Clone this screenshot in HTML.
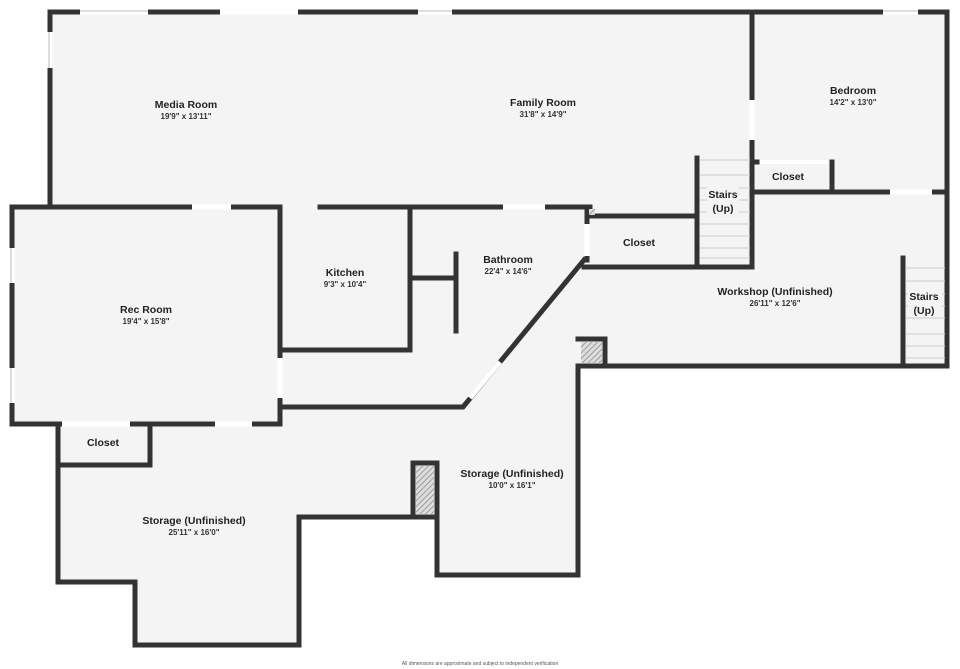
<!DOCTYPE html>
<html><head><meta charset="utf-8"><style>
html,body{margin:0;padding:0;background:#fff;}
svg{display:block;font-family:"Liberation Sans",sans-serif;}
.n{font-size:10.5px;font-weight:bold;fill:#222;text-anchor:middle;}
.d{font-size:8px;font-weight:bold;fill:#333;text-anchor:middle;}
.w{stroke:#333;stroke-width:5;fill:none;stroke-linecap:square;}
.g{stroke:#fff;stroke-width:5;}
.s{stroke:#ccc;stroke-width:1;}
</style></head><body>
<svg width="960" height="669" viewBox="0 0 960 669">
<defs><pattern id="h" width="4" height="4" patternUnits="userSpaceOnUse" patternTransform="rotate(45)"><rect width="4" height="4" fill="#ddd"/><line x1="0" y1="0" x2="0" y2="4" stroke="#888" stroke-width="1.5"/></pattern></defs>
<polygon points="12,207 50,207 50,12 947,12 947,366 578,366 578,575 437,575 437,517 299,517 299,645 135,645 135,582 58,582 58,424 12,424" fill="#f4f4f4"/>
<g class="w">
<polyline points="50,207 50,12 947,12 947,366 605,366"/>
<polyline points="12,207 280,207 280,424 12,424 12,207"/>
<polyline points="320,207 590,207"/>
<polyline points="410,207 410,350 280,350"/>
<line x1="410" y1="278" x2="456" y2="278"/><line x1="456" y1="254" x2="456" y2="331"/>
<polyline points="280,407 463,407 584,260"/>
<polyline points="587,207 587,260"/>
<polyline points="590,216 697,216"/>
<polyline points="584,267 752,267"/>
<line x1="697" y1="158" x2="697" y2="267"/>
<line x1="752" y1="12" x2="752" y2="267"/>
<polyline points="752,192 947,192"/>
<line x1="832" y1="162" x2="832" y2="192"/>
<line x1="752" y1="162" x2="757" y2="162"/>
<line x1="903" y1="258" x2="903" y2="366"/>
<polyline points="578,339 605,339 605,366 578,366 578,575 437,575 437,517 299,517 299,645 135,645 135,582 58,582 58,424"/>
<polyline points="150,424 150,465 58,465"/>
<polyline points="413,463 437,463 437,517 413,517 413,463"/>
</g>
<rect x="581" y="342" width="21" height="21" fill="url(#h)"/>
<rect x="416" y="466" width="18" height="48" fill="url(#h)"/>
<rect x="589" y="209" width="6" height="6" fill="url(#h)"/>
<!-- openings / windows -->
<g class="g">
<line x1="80" y1="12" x2="148" y2="12"/><line x1="220" y1="12" x2="298" y2="12"/><line x1="418" y1="12" x2="452" y2="12"/><line x1="883" y1="12" x2="918" y2="12"/>
<line x1="50" y1="32" x2="50" y2="68"/>
<line x1="192" y1="207" x2="231" y2="207"/><line x1="503" y1="207" x2="545" y2="207"/>
<line x1="12" y1="248" x2="12" y2="283"/><line x1="12" y1="368" x2="12" y2="403"/>
<line x1="280" y1="358" x2="280" y2="398"/>
<line x1="62" y1="424" x2="130" y2="424"/><line x1="215" y1="424" x2="252" y2="424"/>
<line x1="752" y1="100" x2="752" y2="140"/>
<line x1="890" y1="192" x2="932" y2="192"/>
<line x1="587" y1="224" x2="587" y2="256"/>
<line x1="470" y1="398" x2="500" y2="362"/>
<line x1="760" y1="162" x2="827" y2="162" style="stroke-width:4"/>
</g>
<g stroke="#aaa" stroke-width="0.8">
<line x1="80" y1="11" x2="148" y2="11"/><line x1="418" y1="11" x2="452" y2="11"/><line x1="883" y1="11" x2="918" y2="11"/>
<line x1="49" y1="32" x2="49" y2="68"/><line x1="11" y1="248" x2="11" y2="283"/><line x1="11" y1="368" x2="11" y2="403"/>
</g>
<g class="s">
<line x1="700" y1="160" x2="750" y2="160"/>
<line x1="700" y1="175" x2="750" y2="175"/><line x1="700" y1="188" x2="750" y2="188"/><line x1="700" y1="200" x2="750" y2="200"/><line x1="700" y1="212" x2="750" y2="212"/><line x1="700" y1="224" x2="750" y2="224"/><line x1="700" y1="236" x2="750" y2="236"/><line x1="700" y1="248" x2="750" y2="248"/><line x1="700" y1="258" x2="750" y2="258"/>
<line x1="906" y1="268" x2="945" y2="268"/><line x1="906" y1="281" x2="945" y2="281"/><line x1="906" y1="294" x2="945" y2="294"/><line x1="906" y1="306" x2="945" y2="306"/><line x1="906" y1="318" x2="945" y2="318"/><line x1="906" y1="334" x2="945" y2="334"/><line x1="906" y1="346" x2="945" y2="346"/><line x1="906" y1="358" x2="945" y2="358"/>
</g>
<rect x="707" y="187" width="32" height="28" fill="#f4f4f4"/>
<rect x="908" y="289" width="34" height="28" fill="#f4f4f4"/>
<text class="n" x="186" y="108">Media Room</text><text class="d" x="186" y="119">19'9" x 13'11"</text>
<text class="n" x="543" y="106">Family Room</text><text class="d" x="543" y="117">31'8" x 14'9"</text>
<text class="n" x="853" y="94">Bedroom</text><text class="d" x="853" y="105">14'2" x 13'0"</text>
<text class="n" x="788" y="180">Closet</text>
<text class="n" x="723" y="198">Stairs</text><text class="n" x="723" y="212">(Up)</text>
<text class="n" x="639" y="246">Closet</text>
<text class="n" x="508" y="263">Bathroom</text><text class="d" x="508" y="274">22'4" x 14'6"</text>
<text class="n" x="345" y="276">Kitchen</text><text class="d" x="345" y="287">9'3" x 10'4"</text>
<text class="n" x="146" y="313">Rec Room</text><text class="d" x="146" y="324">19'4" x 15'8"</text>
<text class="n" x="775" y="295">Workshop (Unfinished)</text><text class="d" x="775" y="306">26'11" x 12'6"</text>
<text class="n" x="924" y="300">Stairs</text><text class="n" x="924" y="314">(Up)</text>
<text class="n" x="103" y="446">Closet</text>
<text class="n" x="512" y="477">Storage (Unfinished)</text><text class="d" x="512" y="488">10'0" x 16'1"</text>
<text class="n" x="194" y="524">Storage (Unfinished)</text><text class="d" x="194" y="535">25'11" x 16'0"</text>
<text x="480" y="665" style="font-size:5px;fill:#555;text-anchor:middle">All dimensions are approximate and subject to independent verification</text>
</svg>
</body></html>
